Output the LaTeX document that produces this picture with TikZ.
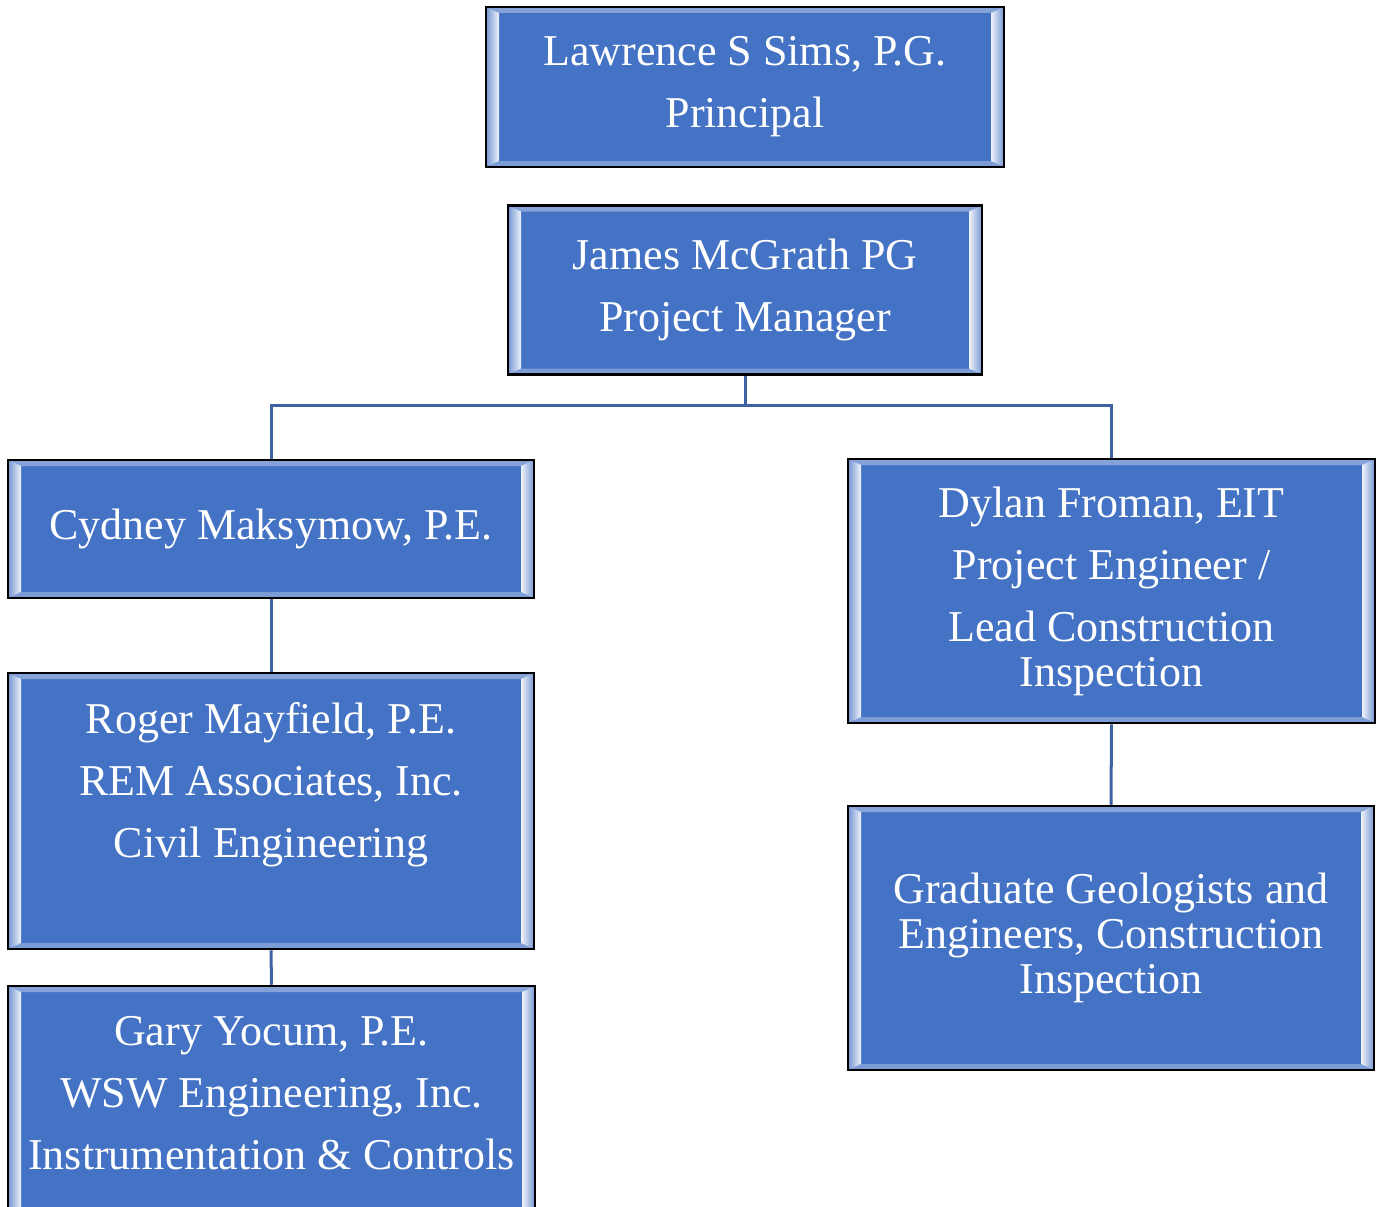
\documentclass[tikz,border=0pt]{standalone}
\usepackage{fontspec}
\setmainfont{Liberation Serif}
\usetikzlibrary{calc}
\definecolor{boxblue}{RGB}{68, 114, 196}
\definecolor{linkblue}{RGB}{62, 98, 162}
\newcommand{\orgfont}{\fontsize{44}{45}\selectfont}

\tikzset{
  staff/.style={draw=black, line width=2.5pt, fill=boxblue, text=white,
    align=center, inner sep=0pt, font=\orgfont,
    path picture={
      \coordinate (pa) at (path picture bounding box.south west);
      \coordinate (pb) at (path picture bounding box.north east);
      \fill[boxblue!70!white] (pa) -- (pb |- pa) -- ($(pb |- pa)+(-13pt,6pt)$) -- ($(pa)+(13pt,6pt)$) -- cycle;
      \fill[boxblue!65!white] (pa |- pb) -- (pb) -- ($(pb)+(-13pt,-6pt)$) -- ($(pa |- pb)+(13pt,-6pt)$) -- cycle;
      \shade[left color=boxblue!75!white, right color=boxblue!8!white]
        (pa) -- (pa |- pb) -- ($(pa |- pb)+(13pt,-6pt)$) -- ($(pa)+(13pt,6pt)$) -- cycle;
      \shade[left color=boxblue!8!white, right color=boxblue!75!white]
        ($(pa -| pb)+(-13pt,6pt)$) -- ($(pb)+(-13pt,-6pt)$) -- (pb) -- (pa -| pb) -- cycle;
    }},
  link/.style={draw=linkblue, line width=3pt}
}

\begin{document}
\begin{tikzpicture}[x=1pt, y=-1pt]
  \useasboundingbox (0, 0) rectangle (1382, 1207);

  \node[staff, minimum width=518pt, minimum height=160pt] (sims) at (745, 87)
    {Lawrence S Sims, P.G.\\[17pt] Principal};
  \node[staff, minimum width=474pt, minimum height=169pt] (mcgrath) at (745, 290)
    {James McGrath PG\\[17pt] Project Manager};

  \node[staff, minimum width=526pt, minimum height=138pt] (maksymow) at (271, 529)
    {Cydney Maksymow, P.E.};
  \node[staff, minimum width=526pt, minimum height=276pt] (mayfield) at (271, 811)
    {Roger Mayfield, P.E.\\[17pt] REM Associates, Inc.\\[17pt] Civil Engineering\\[17pt] \mbox{}};
  \node[staff, minimum width=527pt, minimum height=276pt] (yocum) at (271.5, 1124)
    {Gary Yocum, P.E.\\[17pt] WSW Engineering, Inc.\\[17pt] Instrumentation \& Controls\\[17pt] \mbox{}};

  \node[staff, minimum width=527pt, minimum height=264pt] (froman) at (1111.5, 591)
    {Dylan Froman, EIT\\[17pt] Project Engineer /\\[17pt] Lead Construction\\ Inspection};
  \node[staff, minimum width=526pt, minimum height=264pt] (geologists) at (1111, 938)
    {Graduate Geologists and\\ Engineers, Construction\\ Inspection};

  % connectors
  \coordinate (split) at (745, 405);
  \draw[link] (mcgrath.south) -- (split) -| (maksymow.north);
  \draw[link] (split) -| (froman.north);
  \draw[link] (maksymow.south) -- (mayfield.north);
  \draw[link] (mayfield.south) -- (yocum.north);
  \draw[link] (froman.south) -- (geologists.north);
\end{tikzpicture}
\end{document}
